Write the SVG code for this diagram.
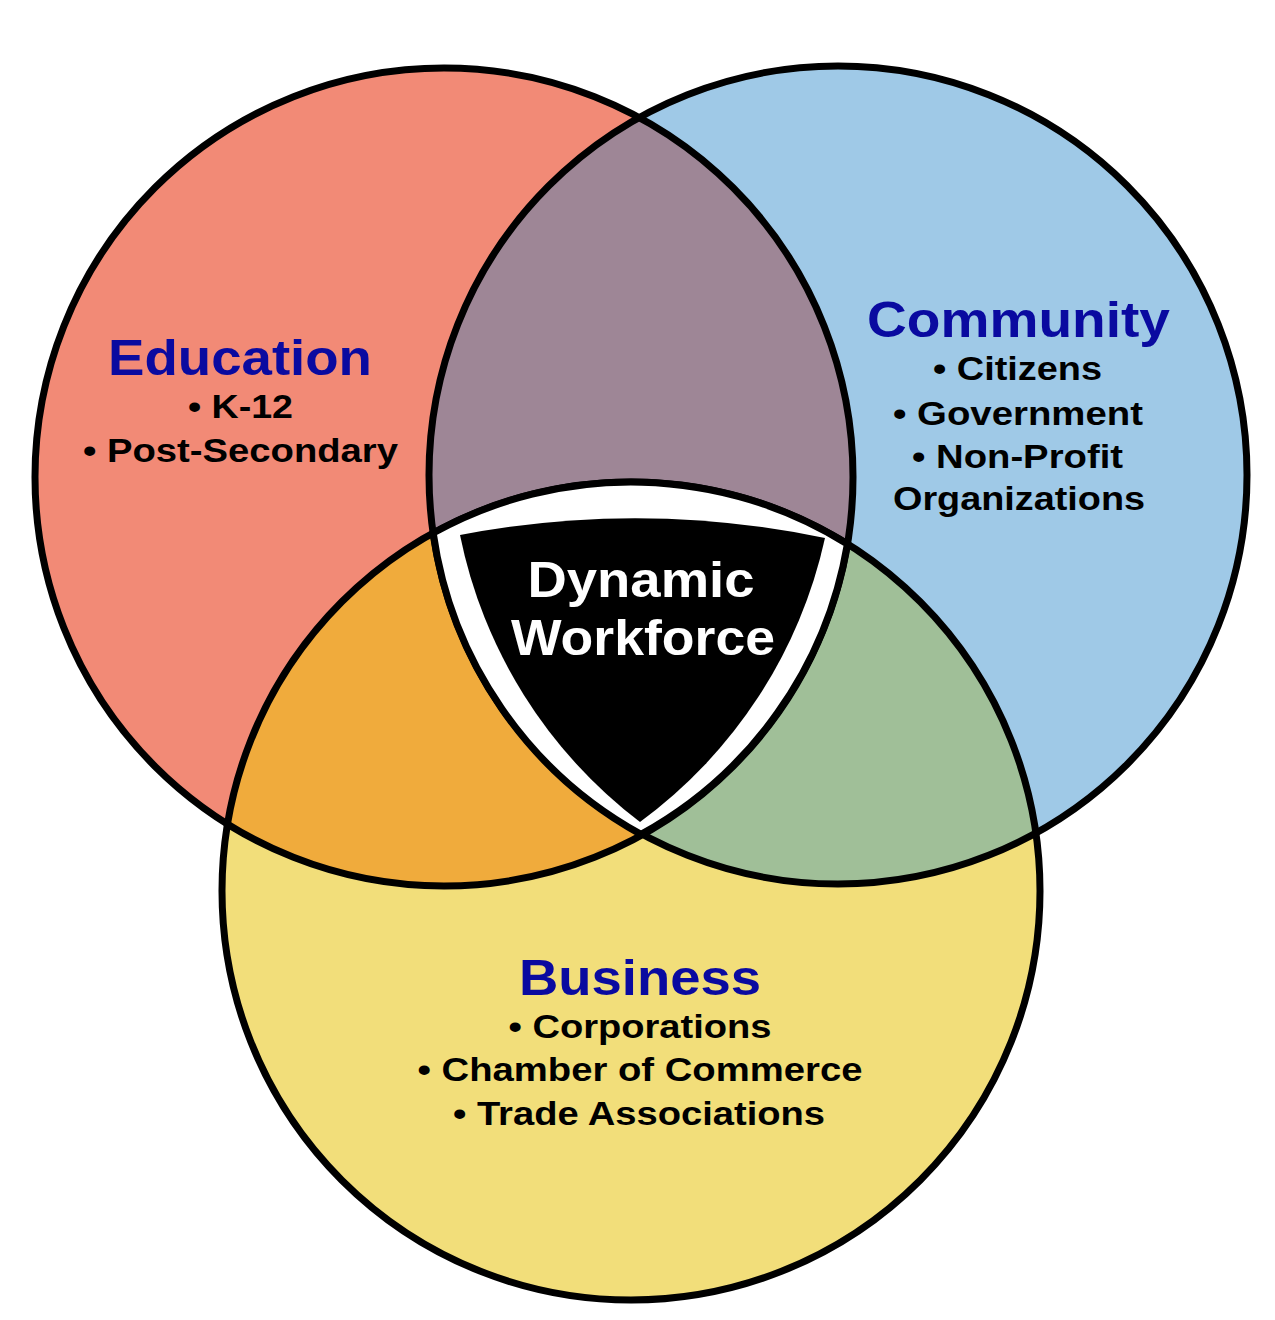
<svg xmlns="http://www.w3.org/2000/svg" width="1275" height="1320" viewBox="0 0 1275 1320">
<style>
.ring{fill:none;stroke:#000;stroke-width:7}
.title{font-family:"Liberation Sans",Arial,sans-serif;font-weight:bold;font-size:50px;fill:#0A0AA0;text-anchor:middle}
.item{font-family:"Liberation Sans",Arial,sans-serif;font-weight:bold;font-size:33px;fill:#000;text-anchor:middle}
.center{font-family:"Liberation Sans",Arial,sans-serif;font-weight:bold;font-size:50px;fill:#fff;text-anchor:middle}
</style>
<defs>
<clipPath id="clipEdu"><circle cx="444" cy="477" r="409"/></clipPath>
<clipPath id="clipCom"><circle cx="838" cy="475" r="409"/></clipPath>
</defs>
<rect width="1275" height="1320" fill="#fff"/>
<g id="education-fill"><circle cx="444" cy="477" r="409" fill="#F28A76"/></g>
<g id="community-fill"><circle cx="838" cy="475" r="409" fill="#9FC9E7"/></g>
<g id="business-fill"><circle cx="631" cy="891" r="409" fill="#F2DE7A"/></g>
<g id="overlaps">
<circle cx="838" cy="475" r="409" fill="#9E8696" clip-path="url(#clipEdu)"/>
<circle cx="631" cy="891" r="409" fill="#F0AB3C" clip-path="url(#clipEdu)"/>
<circle cx="631" cy="891" r="409" fill="#A0BF98" clip-path="url(#clipCom)"/>
</g>
<g id="connectors">
<circle class="ring" cx="444" cy="477" r="409"/>
<circle class="ring" cx="838" cy="475" r="409"/>
<circle class="ring" cx="631" cy="891" r="409"/>
</g>
<g id="dynamic-workforce">
<path d="M 433.2 533 A 409 409 0 0 1 847.4 544 A 409 409 0 0 1 641 834.4 A 409 409 0 0 1 433.2 533 Z" fill="#fff" stroke="#000" stroke-width="7"/>
<path d="M 460 535 A 930 930 0 0 1 825 538 A 480 480 0 0 1 640 822 A 480 480 0 0 1 460 535 Z" fill="#000"/>
<text class="center" x="641" y="597" textLength="227" lengthAdjust="spacingAndGlyphs">Dynamic</text>
<text class="center" x="643" y="655" textLength="264" lengthAdjust="spacingAndGlyphs">Workforce</text>
</g>
<g id="education">
<text class="title" x="240" y="375" textLength="264" lengthAdjust="spacingAndGlyphs">Education</text>
<text class="item" x="240.5" y="418" textLength="105" lengthAdjust="spacingAndGlyphs">• K-12</text>
<text class="item" x="240.5" y="462" textLength="315" lengthAdjust="spacingAndGlyphs">• Post-Secondary</text>
</g>
<g id="community">
<text class="title" x="1018.5" y="337" textLength="303" lengthAdjust="spacingAndGlyphs">Community</text>
<text class="item" x="1017.5" y="380" textLength="169" lengthAdjust="spacingAndGlyphs">• Citizens</text>
<text class="item" x="1018" y="425" textLength="250" lengthAdjust="spacingAndGlyphs">• Government</text>
<text class="item" x="1017.5" y="468" textLength="211" lengthAdjust="spacingAndGlyphs">• Non-Profit</text>
<text class="item" x="1019" y="510" textLength="252" lengthAdjust="spacingAndGlyphs">Organizations</text>
</g>
<g id="business">
<text class="title" x="640" y="995" textLength="242" lengthAdjust="spacingAndGlyphs">Business</text>
<text class="item" x="640" y="1038" textLength="263" lengthAdjust="spacingAndGlyphs">• Corporations</text>
<text class="item" x="640" y="1081" textLength="445" lengthAdjust="spacingAndGlyphs">• Chamber of Commerce</text>
<text class="item" x="639" y="1125" textLength="372" lengthAdjust="spacingAndGlyphs">• Trade Associations</text>
</g>
</svg>
